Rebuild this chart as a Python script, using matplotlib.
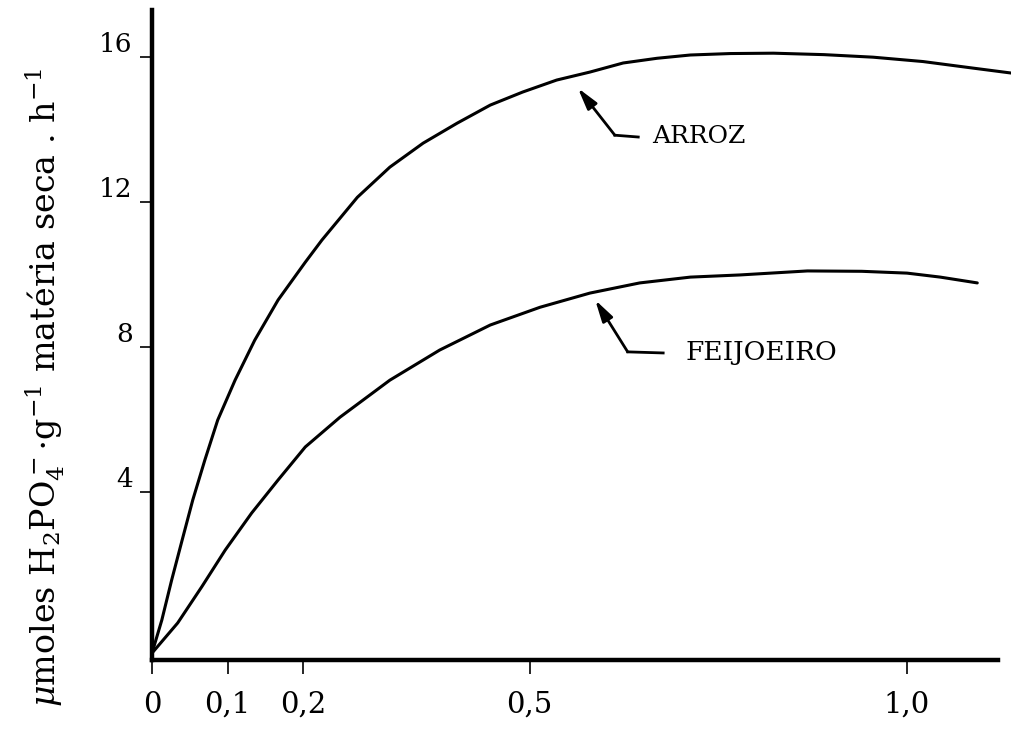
import numpy as np
import matplotlib
matplotlib.use('Agg')
import matplotlib.pyplot as plt

# uptake curves
arroz_x = [0.000, 0.013, 0.026, 0.040, 0.054, 0.070, 0.087, 0.110, 0.136, 0.167,
           0.203, 0.225, 0.272, 0.315, 0.359, 0.404, 0.448, 0.491, 0.536, 0.580,
           0.624, 0.669, 0.713, 0.766, 0.823, 0.890, 0.955, 1.021, 1.087, 1.139]
arroz_y = [-0.43, 0.48, 1.58, 2.69, 3.79, 4.89, 5.99, 7.09, 8.19, 9.30,
           10.34, 10.95, 12.13, 12.96, 13.62, 14.17, 14.67, 15.03, 15.36, 15.58,
           15.83, 15.96, 16.05, 16.09, 16.10, 16.06, 15.99, 15.87, 15.69, 15.55]

feij_x = [0.000, 0.034, 0.066, 0.097, 0.132, 0.167, 0.203, 0.249, 0.315, 0.381,
          0.448, 0.514, 0.580, 0.646, 0.713, 0.779, 0.868, 0.940, 1.000, 1.044,
          1.093]
feij_y = [-0.43, 0.40, 1.40, 2.41, 3.43, 4.34, 5.25, 6.07, 7.09, 7.92,
          8.61, 9.10, 9.49, 9.77, 9.93, 9.99, 10.10, 10.09, 10.04, 9.93,
          9.77]

xticks = [0, 0.1, 0.2, 0.5, 1.0]
xticklabels = ['0', '0,1', '0,2', '0,5', '1,0']
yticks = [4, 8, 12, 16]
yticklabels = ['4', '8', '12', '16']

plt.rcParams['font.family'] = ['DejaVu Serif']
plt.rcParams['mathtext.fontset'] = 'dejavuserif'
plt.rcParams['mathtext.default'] = 'regular'

fig = plt.figure(figsize=(10.12, 7.3), dpi=100)
ax = fig.add_axes([0.1502, 0.0959, 0.8498, 0.8904])

ax.plot(arroz_x, arroz_y, color='black', lw=2.2, solid_capstyle='round')
ax.plot(feij_x, feij_y, color='black', lw=2.2, solid_capstyle='round')

ax.set_xlim(0, 1.139)
ax.set_ylim(-0.62, 17.29)

for s in ['top', 'right']:
    ax.spines[s].set_visible(False)
ax.spines['left'].set_linewidth(3.2)
ax.spines['bottom'].set_linewidth(3.2)
ax.spines['bottom'].set_bounds(0, 1.12)

ax.set_xticks(xticks)
ax.set_xticklabels(xticklabels, fontsize=21)
ax.set_yticks(yticks)
ax.set_yticklabels(yticklabels, fontsize=19)
ax.tick_params(axis='x', direction='out', length=10, width=1.2, pad=12)
ax.tick_params(axis='y', direction='out', length=9, width=1.2, pad=5)
for lab in ax.get_yticklabels():
    lab.set_va('bottom')

arrow = dict(arrowstyle='-|>,head_length=1.3,head_width=0.35',
             color='black', lw=2, shrinkA=0, shrinkB=0)

# pointer arrows to each curve
ax.plot([0.613, 0.644], [13.84, 13.79], color='black', lw=2)
ax.annotate('', xy=(0.564, 15.14), xytext=(0.613, 13.84), arrowprops=arrow)
ax.text(0.662, 13.8, 'ARROZ', fontsize=18, va='center', ha='left')

ax.plot([0.630, 0.677], [7.87, 7.84], color='black', lw=2)
ax.annotate('', xy=(0.587, 9.30), xytext=(0.630, 7.87), arrowprops=arrow)
ax.text(0.706, 7.84, 'FEIJOEIRO', fontsize=19, va='center', ha='left')

fig.text(45 / 1012, 1 - 387 / 730,
         r'$\mathit{\mu}$moles H$_2$PO$_4^-$$\cdot$g$^{-1}$ matéria seca . h$^{-1}$',
         rotation=90, ha='center', va='center', fontsize=24)

fig.savefig('out.png', dpi=100)
